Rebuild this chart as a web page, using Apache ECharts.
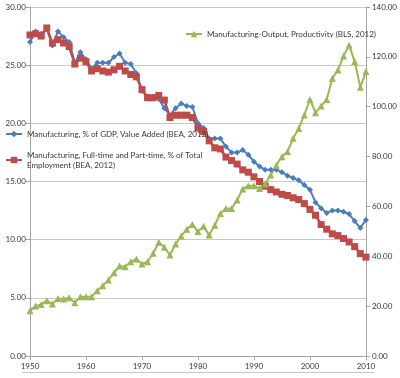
<!DOCTYPE html>
<html>
<head>
<meta charset="utf-8">
<script src="https://cdn.jsdelivr.net/npm/echarts@6/dist/echarts.min.js"></script>
<style>
html,body{margin:0;padding:0;background:#fff;}
#chart{width:400px;height:378px;}
</style>
</head>
<body>
<div id="chart"></div>
<script>
var years = [];
for (var y = 1950; y <= 2010; y++) years.push(String(y));

var gdpShare = [27.0,27.9,27.7,28.1,26.7,27.9,27.4,27.0,25.2,26.1,
  25.5,24.7,25.2,25.2,25.2,25.7,26.0,25.2,25.1,24.3,
  22.8,22.3,22.3,22.1,21.3,20.7,21.3,21.7,21.5,21.4,
  20.0,19.6,18.7,18.7,18.7,18.0,17.5,17.5,17.7,17.3,
  16.7,16.3,16.0,16.0,16.0,15.8,15.5,15.3,15.1,14.7,
  14.3,13.2,12.7,12.3,12.5,12.5,12.4,12.2,11.6,11.0,
  11.7];

var employmentShare = [27.6,27.7,27.5,28.2,26.9,27.2,26.9,26.6,25.1,25.6,
  25.3,24.5,24.7,24.5,24.4,24.6,24.9,24.5,24.2,24.0,
  22.9,22.2,22.2,22.4,22.0,20.5,20.7,20.7,20.7,20.5,
  19.6,19.3,18.5,17.9,17.8,17.1,16.8,16.5,16.0,15.8,
  15.4,15.0,14.6,14.3,14.1,13.9,13.8,13.6,13.45,13.1,
  12.6,12.1,11.3,10.9,10.5,10.35,10.1,9.8,9.4,8.8,
  8.5];

var productivity = [18.2,20.1,20.7,22.2,20.9,23.1,22.9,23.4,21.4,23.8,
  23.8,23.8,26.2,28.2,30.5,33.4,36.1,35.8,37.8,38.9,
  36.9,37.8,41.2,45.6,43.6,40.5,44.9,48.1,50.8,52.8,
  49.9,52.0,48.5,52.5,57.2,59.2,59.2,62.6,67.0,68.3,
  68.3,67.2,69.0,72.6,76.5,79.9,82.0,87.3,91.3,96.7,
  102.9,97.6,100.3,102.9,111.4,114.7,120.3,124.7,118.1,107.8,
  114.1];

var nameGdp = 'Manufacturing, % of GDP, Value Added (BEA, 2012)';
var nameEmp = 'Manufacturing, Full-time and Part-time, % of Total\nEmployment (BEA, 2012)';
var nameProd = 'Manufacturing-Output, Productivity (BLS, 2012)';

var FONT = 'Lato';
var labelColor = '#383838';
var axisGray = '#a6a6a6';

var chart = echarts.init(document.getElementById('chart'), null, {renderer: 'canvas'});
chart.setOption({
  animation: false,
  backgroundColor: '#fff',
  grid: {left: 30, right: 34, top: 7, bottom: 22, containLabel: false},
  legend: [
    {data: [nameProd], left: 185, top: 30, padding: 0, itemWidth: 16, itemHeight: 8,
     textStyle: {fontFamily: FONT, fontSize: 8, color: labelColor}},
    {data: [nameGdp], left: 5, top: 130, padding: 0, itemWidth: 16, itemHeight: 8,
     textStyle: {fontFamily: FONT, fontSize: 8, color: labelColor}},
    {data: [nameEmp], left: 5, top: 145, padding: 0, itemWidth: 16, itemHeight: 8,
     textStyle: {fontFamily: FONT, fontSize: 8, color: labelColor, lineHeight: 10, padding: [10, 0, 0, 0]}}
  ],
  graphic: [
    {type: 'line', silent: true, shape: {x1: 22, y1: 372.5, x2: 374, y2: 372.5},
     style: {stroke: '#c8c8c8', lineWidth: 1}}
  ],
  xAxis: {
    type: 'category', data: years, boundaryGap: false,
    axisLine: {lineStyle: {color: axisGray}},
    axisTick: {interval: 9, length: 4, lineStyle: {color: axisGray}},
    axisLabel: {interval: 9, fontFamily: FONT, fontSize: 8, color: labelColor, margin: 6}
  },
  yAxis: [
    {type: 'value', min: 0, max: 30, interval: 5,
     axisLine: {show: true, lineStyle: {color: axisGray}},
     axisTick: {show: true, length: 4, lineStyle: {color: axisGray}},
     splitLine: {lineStyle: {color: '#c8c8c8'}},
     axisLabel: {fontFamily: FONT, fontSize: 8, color: labelColor, margin: 4,
                 formatter: function (v) { return v.toFixed(2); }}},
    {type: 'value', min: 0, max: 140, interval: 20, position: 'right',
     axisLine: {show: true, lineStyle: {color: axisGray}},
     axisTick: {show: true, length: 4, lineStyle: {color: axisGray}},
     splitLine: {show: false},
     axisLabel: {fontFamily: FONT, fontSize: 8, color: labelColor, margin: 6,
                 formatter: function (v) { return v.toFixed(2); }}}
  ],
  series: [
    {name: nameGdp, type: 'line', yAxisIndex: 0, data: gdpShare,
     symbol: 'diamond', symbolSize: 6, showAllSymbol: true,
     lineStyle: {width: 2, color: '#4a7ebb'}, itemStyle: {color: '#4a7ebb'}},
    {name: nameEmp, type: 'line', yAxisIndex: 0, data: employmentShare,
     symbol: 'rect', symbolSize: 7, showAllSymbol: true,
     lineStyle: {width: 2.5, color: '#be4b48'}, itemStyle: {color: '#be4b48'}},
    {name: nameProd, type: 'line', yAxisIndex: 1, data: productivity,
     symbol: 'triangle', symbolSize: 7, showAllSymbol: true,
     lineStyle: {width: 2, color: '#98b954'}, itemStyle: {color: '#98b954'}}
  ]
});
</script>
</body>
</html>
